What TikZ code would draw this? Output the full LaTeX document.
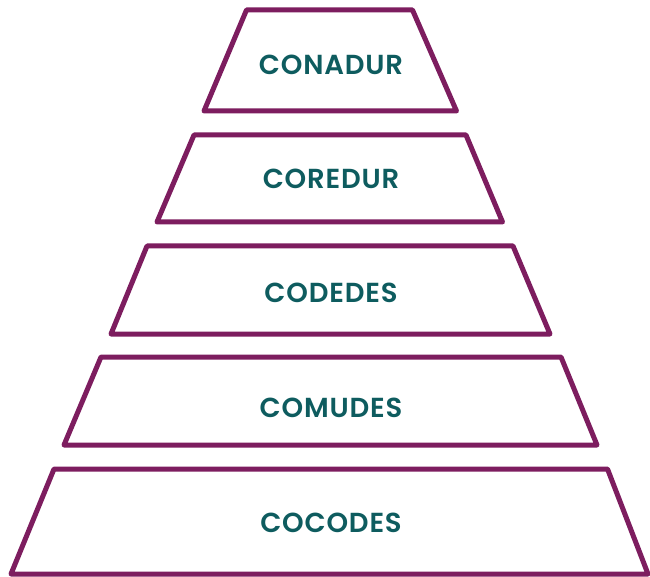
\documentclass[tikz,border=0pt]{standalone}
\usepackage{fontspec}
\setmainfont{Poppins}[BoldFont={Poppins SemiBold},BoldFeatures={LetterSpace=3}]
\definecolor{frame}{HTML}{7D1D5F}
\definecolor{txt}{HTML}{0E5C5F}
\begin{document}
\begin{tikzpicture}[x=1pt,y=-1pt,
  level/.style={draw=frame,line width=5pt,line join=round,fill=white},
  lbl/.style={text=txt,font=\fontsize{27.5}{27.5}\selectfont\bfseries,inner sep=0pt,anchor=center}]
\useasboundingbox (0,0) rectangle (650,577);
\draw[level] (246.5,10) -- (412.5,10) -- (456.5,111) -- (204,111) -- cycle;
\draw[level] (194,135) -- (466,135) -- (502.5,222) -- (157,222) -- cycle;
\draw[level] (147,246) -- (513,246) -- (550,334) -- (111,334) -- cycle;
\draw[level] (101,357) -- (561,357) -- (597,445) -- (64,445) -- cycle;
\draw[level] (54,469) -- (607.5,469) -- (648,574) -- (11,574) -- cycle;
\node[lbl] (conadur) at (331,64.5) {CONADUR};
\node[lbl] (coredur) at (331,179) {COREDUR};
\node[lbl] (codedes) at (331,293) {CODEDES};
\node[lbl] (comudes) at (331,408) {COMUDES};
\node[lbl] (cocodes) at (331,523) {COCODES};
\end{tikzpicture}
\end{document}
